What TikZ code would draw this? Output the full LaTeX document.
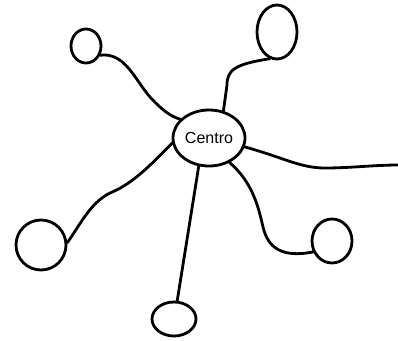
\documentclass[tikz,border=0pt]{standalone}
\usepackage{fontspec}
\setmainfont{Liberation Sans}
\usetikzlibrary{shapes.geometric}
\begin{document}
\begin{tikzpicture}[x=1pt,y=1pt,
  bubble/.style={draw,ellipse,line width=2.8pt,inner sep=0pt},
  link/.style={line width=2.8pt,line cap=round,line join=round}]
\useasboundingbox (0,0) rectangle (398,-340);
% hub
\node[bubble,minimum width=72pt,minimum height=56pt,font=\fontsize{16}{16}\selectfont] (c) at (209,-138) {Centro};
% satellites
\node[bubble,minimum width=30pt,minimum height=34pt] (tl) at (86,-46) {};
\node[bubble,minimum width=40pt,minimum height=54pt] (tr) at (277,-32) {};
\node[bubble,minimum width=50pt,minimum height=50pt] (lb) at (41,-245) {};
\node[bubble,minimum width=44pt,minimum height=34pt] (b) at (174,-319) {};
\node[bubble,minimum width=40pt,minimum height=44pt] (rb) at (332,-241) {};
\coordinate (rend) at (398,-165);
% connectors
\draw[link] (tl.-33) .. controls (125,-52) and (135,-80) .. (150,-97)
  .. controls (162,-110) and (170,-116) .. (c.147);
\draw[link] (c.62) -- (227,-85) .. controls (227,-70) and (235,-64) .. (tr.-105);
\draw[link] (c.-14) .. controls (285,-158) and (300,-168) .. (325,-168)
  .. controls (350,-168) and (375,-165) .. (rend);
\draw[link] (c.-50) .. controls (252,-182) and (258,-205) .. (263,-227)
  .. controls (268,-248) and (282,-258) .. (rb.-150);
\draw[link] (c.-110) -- (b.80);
\draw[link] (c.188) .. controls (155,-160) and (135,-183) .. (110,-193)
  .. controls (90,-203) and (80,-225) .. (lb.5);
\end{tikzpicture}
\end{document}
